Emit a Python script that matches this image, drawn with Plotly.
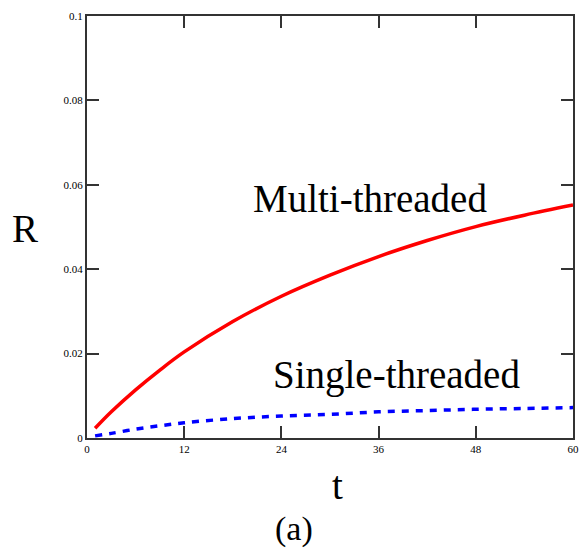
import plotly.graph_objects as go

t_multi = [1, 3, 6, 9, 12, 18, 24, 30, 36, 42, 48, 54, 60]
r_multi = [0.0023, 0.0062, 0.0114, 0.0161, 0.0204, 0.0276, 0.0336, 0.0386, 0.0430, 0.0468, 0.0501, 0.0528, 0.0552]

t_single = [1, 3, 6, 9, 12, 18, 24, 30, 36, 42, 48, 54, 60]
r_single = [0.0005, 0.0011, 0.0021, 0.0029, 0.0036, 0.0046, 0.0052, 0.0056, 0.0062, 0.0065, 0.0068, 0.0070, 0.0072]

x_ticks = [0, 12, 24, 36, 48, 60]
y_ticks = [0, 0.02, 0.04, 0.06, 0.08, 0.1]
y_tick_text = ["0", "0.02", "0.04", "0.06", "0.08", "0.1"]

fig = go.Figure()
fig.add_trace(go.Scatter(x=t_multi, y=r_multi, mode="lines",
                         line=dict(color="#ff0000", width=3.5, shape="spline", smoothing=1.0),
                         showlegend=False, hoverinfo="skip"))
fig.add_trace(go.Scatter(x=t_single, y=r_single, mode="lines",
                         line=dict(color="#0000ff", width=3.5, dash="7px,7px", shape="spline"),
                         showlegend=False, hoverinfo="skip"))

axis_common = dict(showline=True, linecolor="#333333", linewidth=2, mirror="allticks",
                   ticks="inside", ticklen=12, tickwidth=2, tickcolor="#333333",
                   showgrid=False, zeroline=False, automargin=False,
                   tickfont=dict(family="Liberation Serif", size=11, color="black"))

fig.update_xaxes(range=[0, 60], tickvals=x_ticks, **axis_common)
fig.update_yaxes(range=[0, 0.1], tickvals=y_ticks, ticktext=y_tick_text, **axis_common)

big = dict(family="Liberation Serif", size=39, color="black")
labels = [
    ("Multi-threaded", 370, 198, big),
    ("R", 25, 228, big),
    ("Single-threaded", 396, 375, big),
    ("t", 337, 485, big),
    ("(a)", 294, 529, dict(family="Liberation Serif", size=34, color="black")),
]

W, H = 584, 548
L, R, T, B = 87, 11, 16, 110
pw, ph = W - L - R, H - T - B
for text, px, py, font in labels:
    fig.add_annotation(text=text, x=(px - L) / pw, y=1 - (py - T) / ph,
                       xref="paper", yref="paper", xanchor="center", yanchor="middle",
                       showarrow=False, font=font)

fig.update_layout(width=W, height=H, margin=dict(l=L, r=R, t=T, b=B, autoexpand=False),
                  autosize=False, plot_bgcolor="white", paper_bgcolor="white")
fig.write_html("out.html", config={"displayModeBar": False, "responsive": False},
               post_script="document.body.style.margin='0';")
